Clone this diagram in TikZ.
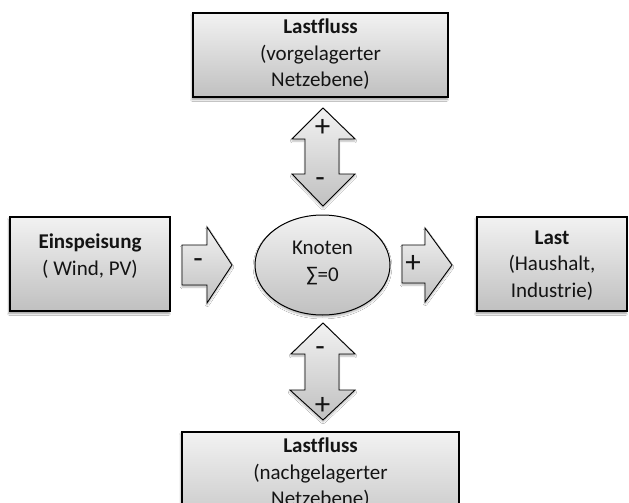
\documentclass[tikz,border=0pt]{standalone}
\usepackage{fontspec}
\setmainfont{Carlito}[Ligatures=NoCommon]
\usetikzlibrary{shadows.blur,shapes.geometric}
\definecolor{gtop}{RGB}{242,242,242}
\definecolor{gbot}{RGB}{192,192,192}
\definecolor{txt}{RGB}{20,20,20}
\tikzset{
  box/.style={draw=black, line width=1.2pt, top color=gtop, bottom color=gbot,
    blur shadow={shadow xshift=-1pt, shadow yshift=-2.5pt, shadow blur steps=5, shadow opacity=40}},
  knot/.style={draw=black, line width=1pt, ellipse, top color=gtop, bottom color=gbot,
    blur shadow={shadow xshift=0pt, shadow yshift=-2pt, shadow blur steps=5, shadow opacity=30}},
  blockarrow/.style={draw=black, line width=0.9pt, line join=miter, top color=gtop, bottom color=gbot,
    blur shadow={shadow xshift=0pt, shadow yshift=-2pt, shadow blur steps=5, shadow opacity=30}},
  lbl/.style={text=txt, font=\fontsize{21}{26.5}\selectfont, align=center, inner sep=0pt},
  sign/.style={text=txt, font=\fontsize{31}{31}\selectfont, inner sep=0pt},
}
\begin{document}
\begin{tikzpicture}[x=1pt,y=-1pt]
\useasboundingbox (0,0) rectangle (629,503);
\clip (0,0) rectangle (629,503);
\fill[white] (0,0) rectangle (629,503);
% boxes
\path[box] (193,13) rectangle (448,97);
\node[lbl] (top) at (320.5,54.5) {\textbf{Lastfluss}\\(vorgelagerter\\Netzebene)};
\path[box] (10,217) rectangle (170,311);
\node[lbl] (left) at (90,256) {\textbf{Einspeisung}\\( Wind, PV)};
\path[box] (477,217) rectangle (627,311);
\node[lbl] (right) at (552,265.5) {\textbf{Last}\\(Haushalt,\\Industrie)};
\path[box] (182,432) rectangle (459,540);
\node[lbl] (bottom) at (320.5,473.5) {\textbf{Lastfluss}\\(nachgelagerter\\Netzebene)};
% knot
\node[knot, minimum width=135pt, minimum height=100pt, inner sep=0pt] (k) at (322.5,265) {};
\node[lbl] (ktext) at (322.5,263) {Knoten\\∑=0};
% left arrow
\path[blockarrow] (182,245) -- (207,245) -- (207,227) -- (232,265) -- (207,303) -- (207,285) -- (182,285) -- cycle;
\node[sign] (la) at (198,264) {-};
% right arrow
\path[blockarrow] (402,245) -- (425,245) -- (425,228) -- (452,265) -- (425,302) -- (425,283) -- (402,283) -- cycle;
\node[sign] (ra) at (413,264) {+};
% top double arrow
\path[blockarrow] (323,108) -- (355,139) -- (339,139) -- (339,174) -- (355,174) -- (323,206) -- (292,174) -- (305,174) -- (305,139) -- (292,139) -- cycle;
\node[sign] (ta1) at (322.5,128) {+};
\node[sign] (ta2) at (320,183) {-};
% bottom double arrow
\path[blockarrow] (323,323) -- (355,354) -- (339,354) -- (339,390) -- (355,390) -- (323,420) -- (290,390) -- (305,390) -- (305,354) -- (291,354) -- cycle;
\node[sign] (ba1) at (320,352) {-};
\node[sign] (ba2) at (322.5,406) {+};
\end{tikzpicture}
\end{document}
